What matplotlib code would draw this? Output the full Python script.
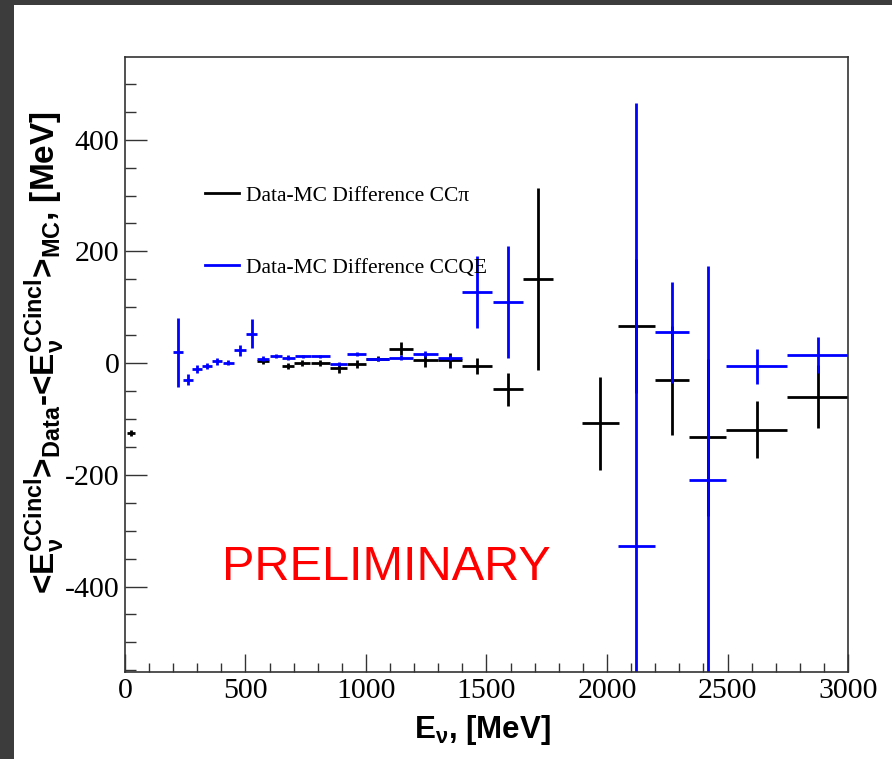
import numpy as np
import matplotlib.pyplot as plt
from matplotlib.lines import Line2D
from matplotlib.patches import Rectangle
from matplotlib.ticker import MultipleLocator

plt.rcParams['font.family'] = ['Liberation Serif', 'DejaVu Serif']
plt.rcParams['axes.unicode_minus'] = False
plt.rcParams['mathtext.fontset'] = 'custom'
plt.rcParams['mathtext.rm'] = 'Liberation Sans:bold'
plt.rcParams['mathtext.it'] = 'Liberation Sans:bold'
plt.rcParams['mathtext.bf'] = 'Liberation Sans:bold'
plt.rcParams['mathtext.default'] = 'rm'

# Data-MC difference of the mean inclusive energy, CC pi sample
e_pi = [25, 573, 677, 735, 811, 887, 962, 1049, 1146, 1246, 1349, 1462, 1588, 1713, 1972, 2122, 2270, 2418, 2621, 2874]
de_pi = [17, 24, 26, 33, 40, 35, 40, 47, 50, 51, 51, 62, 63, 62, 76, 77, 71, 76, 127, 126]
diff_pi = [-125, 4, -5, 0, 0, -9, -2, 8, 26, 5, 5, -5, -47, 150, -108, 67, -31, -133, -119, -60]
err_pi = [6, 5, 6, 5, 5, 8, 7, 4, 12, 12, 13, 15, 30, 163, 83, 120, 97, 140, 51, 57]

# same for the CCQE sample
e_qe = [221, 262, 299, 342, 382, 429, 477, 525, 573, 625, 677, 738, 811, 887, 962, 1049, 1146,
        1246, 1349, 1462, 1588, 2122, 2270, 2418, 2621, 2874]
de_qe = [20, 20, 19, 21, 21, 23, 24, 24, 24, 25, 27, 33, 40, 35, 40, 47, 50, 51, 51, 62, 63, 77, 71, 76, 127, 126]
diff_qe = [19, -30, -10, -5, 3, 1, 23, 53, 8, 13, 10, 12, 12, -2, 16, 7, 10, 16, 10, 127, 110,
           -327, 55, -210, -6, 14]
err_qe = [61, 10, 7, 6, 7, 4, 10, 26, 4, 4, 4, 3, 3, 4, 4, 4, 4, 5, 5, 65, 100, 792, 90, 383, 32, 32]

fig = plt.figure(figsize=(8.92, 7.59), dpi=100)
ax = fig.add_axes([0.1401, 0.1146, 0.8106, 0.8103])

ax.errorbar(e_pi, diff_pi, xerr=de_pi, yerr=err_pi, fmt='none',
            ecolor='black', elinewidth=2, capsize=0)
ax.errorbar(e_qe, diff_qe, xerr=de_qe, yerr=err_qe, fmt='none',
            ecolor='#0000ff', elinewidth=2, capsize=0)

ax.set_xlim(0, 3000)
ax.set_ylim(-553, 548)
ax.xaxis.set_major_locator(MultipleLocator(500))
ax.xaxis.set_minor_locator(MultipleLocator(100))
ax.yaxis.set_major_locator(MultipleLocator(200))
ax.yaxis.set_minor_locator(MultipleLocator(50))
ax.tick_params(which='both', direction='in', top=False, right=False,
               width=1, color='#333333', labelsize=21.5, pad=4)
ax.tick_params(axis='x', which='major', length=13)
ax.tick_params(axis='x', which='minor', length=6.5)
ax.tick_params(axis='y', which='major', length=16)
ax.tick_params(axis='y', which='minor', length=8)
for sp in ax.spines.values():
    sp.set_linewidth(1.2)
    sp.set_color('#333333')

ax.set_xlabel(r'$E_{\nu}$, [MeV]', fontsize=22.5, fontweight='bold',
              family='Liberation Sans')
ax.xaxis.set_label_coords(0.494, -0.066)
ax.set_ylabel(r'$\text{<}E_{\nu}^{CCincl}\text{>}_{Data}\text{-<}E_{\nu}^{CCincl}\text{>}_{MC}$, [MeV]',
              fontsize=24, fontweight='bold', family='Liberation Sans')
ax.yaxis.set_label_coords(-0.08, 0.52)

handles = [Line2D([], [], color='black', lw=2),
           Line2D([], [], color='#0000ff', lw=2)]
ax.legend(handles, ['Data-MC Difference CCπ', 'Data-MC Difference CCQE'],
          loc='center left', bbox_to_anchor=(0.1107, 0.716), frameon=False,
          fontsize=15.5, handlelength=1.6, handletextpad=0.3,
          labelspacing=2.4, borderpad=0, borderaxespad=0)

ax.text(402, -389, 'PRELIMINARY', color='red', fontsize=35,
        family='Liberation Sans', ha='left', va='baseline')

# dark window border
fig.add_artist(Rectangle((0, 1 - 5 / 759), 1, 5 / 759, transform=fig.transFigure,
                         color='#3c3c3c', lw=0))
fig.add_artist(Rectangle((0, 0), 14 / 892, 1, transform=fig.transFigure,
                         color='#3c3c3c', lw=0))

fig.savefig('out.png', dpi=100)
